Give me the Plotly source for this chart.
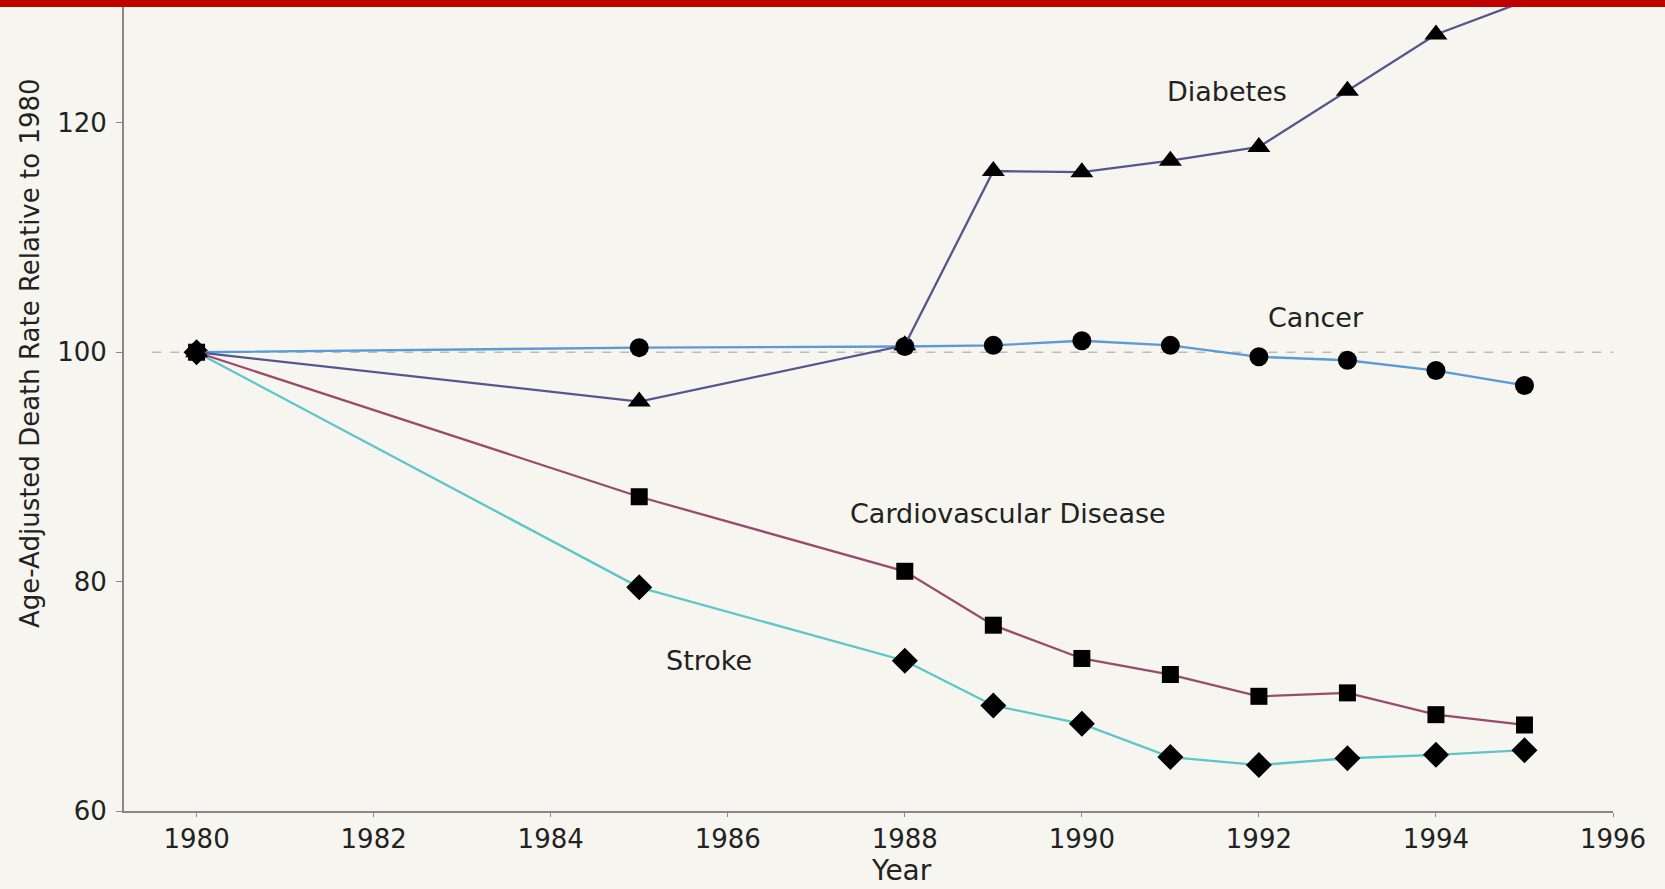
import plotly.graph_objects as go

years = [1980, 1985, 1988, 1989, 1990, 1991, 1992, 1993, 1994, 1995]
diabetes = [100, 95.7, 100.6, 115.8, 115.7, 116.7, 117.9, 122.8, 127.7, 130.6]
cancer = [100, 100.4, 100.5, 100.6, 101.0, 100.6, 99.6, 99.3, 98.4, 97.1]
cardio = [100, 87.4, 80.9, 76.2, 73.3, 71.9, 70.0, 70.3, 68.4, 67.5]
stroke = [100, 79.5, 73.1, 69.2, 67.6, 64.7, 64.0, 64.6, 64.9, 65.3]

x_ticks = [1980, 1982, 1984, 1986, 1988, 1990, 1992, 1994, 1996]
y_ticks = [60, 80, 100, 120]

labels = ["Diabetes", "Cancer", "Cardiovascular Disease", "Stroke"]
label_x = [1991.64, 1992.64, 1989.17, 1985.79]
label_y = [122.7, 103.05, 85.9, 73.1]

FONT = "DejaVu Sans, sans-serif"
fig = go.Figure()

series = [
    (stroke, "#5cc6c8", "diamond", 20),
    (cardio, "#9a4a6c", "square", 17),
    (cancer, "#5a9ad6", "circle", 19),
    (diabetes, "#56568f", "triangle-up", 20),
]
for vals, col, sym, sz in series:
    fig.add_trace(go.Scatter(
        x=years, y=vals, mode="lines+markers",
        line=dict(color=col, width=2.3),
        marker=dict(symbol=sym, size=sz, color="black"),
        showlegend=False,
    ))

for t, lx, ly in zip(labels, label_x, label_y):
    fig.add_annotation(x=lx, y=ly, text=t, showarrow=False,
                       font=dict(family=FONT, size=27, color="#222"))

# axis titles placed as annotations to match their offset positions
fig.add_annotation(xref="paper", yref="paper", x=-0.0631, y=0.5697,
                   xanchor="center", yanchor="middle",
                   text="Age-Adjusted Death Rate Relative to 1980", textangle=-90,
                   showarrow=False, font=dict(family=FONT, size=26, color="#222"))
fig.add_annotation(xref="x", yref="paper", x=1988.0 + (853 - 856) / 83.3, y=-0.0965,
                   xanchor="center", yanchor="bottom",
                   text="Year", showarrow=False,
                   font=dict(family=FONT, size=28, color="#222"))

fig.add_shape(type="line", xref="x", yref="y", x0=1979.5, x1=1996, y0=100, y1=100,
              line=dict(color="#bbbbbb", width=1.5, dash="dash"), layer="below")
fig.add_shape(type="rect", xref="paper", yref="paper", x0=-0.2, x1=1.1, y0=1.0, y1=1.03,
              fillcolor="#c00000", line=dict(width=0), layer="above")

fig.update_layout(
    width=1665, height=889,
    margin=dict(l=124, r=52, t=7, b=78),
    paper_bgcolor="#f6f5ef", plot_bgcolor="#f6f5ef",
    font=dict(family=FONT, size=26, color="#222"),
    xaxis=dict(range=[1979.18, 1996], tickvals=x_ticks, showgrid=False, zeroline=False,
               showline=True, linecolor="#888", linewidth=2, ticks="outside", ticklen=4,
               tickcolor="#888", tickfont=dict(size=26)),
    yaxis=dict(range=[60, 130.1], tickvals=y_ticks, showgrid=False, zeroline=False,
               showline=True, linecolor="#888", linewidth=2, ticks="outside", ticklen=6,
               tickcolor="#888", tickfont=dict(size=26), ticklabelstandoff=4),
)
fig.write_html("out.html", config={"displayModeBar": False},
               post_script="document.body.style.margin='0';document.body.style.overflow='hidden';")
